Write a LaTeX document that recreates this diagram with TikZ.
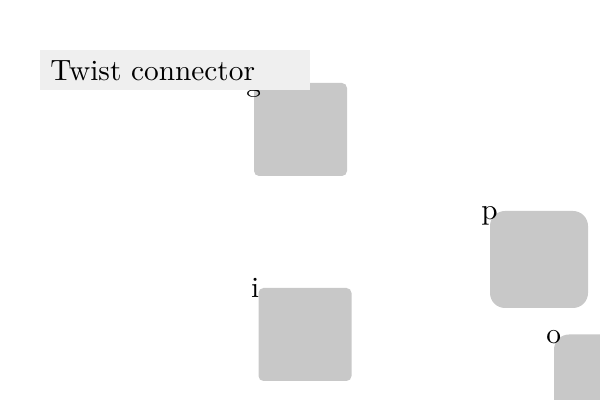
\documentclass[tikz,border=0pt]{standalone}
\usepackage{fontspec}
\usepackage{tikz}
\newfontfamily\tenfont{lmroman10-regular}[Extension=.otf]

\begin{document}
\begin{tikzpicture}[x=0.5pt, y=-0.5pt,
  block/.style={fill=black!21.6, inner sep=0pt, minimum width=46.5pt, minimum height=46.5pt, rounded corners=2.5pt},
  soft block/.style={block, minimum width=49pt, minimum height=48.5pt, rounded corners=7.5pt},
  tag/.style={font=\tenfont\fontsize{14.66}{17}\selectfont, anchor=base, inner sep=0pt},
  heading/.style={fill=black!6.3, font=\tenfont\fontsize{14.66}{17}\selectfont, anchor=north west, inner xsep=5pt, inner ysep=0pt,
    text width=125pt, minimum height=20pt, align=left}]
  \clip (0,0) rectangle (600,400);
  % Blocks
  \node[block] (g) at (300.5,129.5) {};
  \node[soft block] (p) at (539,259.5) {};
  \node[block] (i) at (305,334.5) {};
  \node[soft block] (o) at (603,383) {};
  % Tags
  \node[tag] (g tag) at ([yshift=-4.5pt]g.north west) {g};
  \node[tag] (p tag) at ([yshift=-4.5pt]p.north west) {p};
  \node[tag] (i tag) at ([xshift=-1.5pt, yshift=-5pt]i.north west) {i};
  \node[tag] (o tag) at ([yshift=-4.5pt]o.north west) {o};
  % Title
  \node[heading] (title) at (40,50) {Twist connector};
\end{tikzpicture}
\end{document}
